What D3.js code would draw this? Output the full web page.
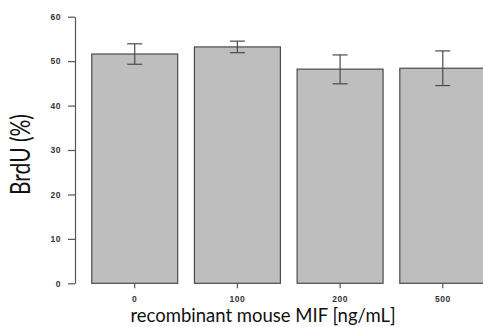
<!DOCTYPE html>
<html lang="en">
<head>
  <script src="https://d3js.org/d3.v7.min.js"></script>
  <style>
    body { margin: 0; background: #fff; }
    svg { display: block; overflow: hidden; }
  </style>
</head>
<body>
  <div id="chart"></div>
  <script>
    // data
    const doses = ["0", "100", "200", "500"];
    const brdu = [51.6, 53.2, 48.2, 48.4];
    const errLow = [49.3, 51.9, 44.9, 44.5];
    const errHigh = [53.9, 54.5, 51.4, 52.3];
    const yTicks = [0, 10, 20, 30, 40, 50, 60];

    const width = 483, height = 327;

    const svg = d3.select("#chart")
      .append("svg")
        .attr("width", width)
        .attr("height", height);

    // y scale: 0 at 283.3, 60 at 16.7
    const y = d3.scaleLinear()
      .domain([0, 60])
      .range([283.3, 16.7]);

    // band scale, last bar runs off the right edge like the original
    const x = d3.scaleBand()
      .domain(doses)
      .range([75, 502.5])
      .paddingInner(0.163)
      .paddingOuter(0.163);

    // y axis
    const yAxis = svg.append("g")
      .attr("transform", "translate(75,0)")
      .call(d3.axisLeft(y).tickValues(yTicks).tickSize(7).tickPadding(7).tickSizeOuter(0));
    yAxis.select(".domain").attr("stroke", "#555").attr("stroke-width", 1.2);
    yAxis.selectAll(".tick line").attr("stroke", "#555").attr("stroke-width", 1.2);
    yAxis.selectAll(".tick text")
      .attr("fill", "#333")
      .style("font-family", "'Liberation Sans', Arial, sans-serif")
      .style("font-size", "8.5px")
      .style("font-weight", "bold")
      .style("letter-spacing", "0.5px");

    // bars
    svg.append("g")
      .selectAll("rect")
      .data(doses)
      .join("rect")
        .attr("x", d => x(d))
        .attr("y", (d, i) => y(brdu[i]))
        .attr("width", x.bandwidth())
        .attr("height", (d, i) => y(0) - y(brdu[i]))
        .attr("fill", "#bebebe")
        .attr("stroke", "#4a4a4a")
        .attr("stroke-width", 1.2);

    // error bars
    const eb = svg.append("g")
      .attr("stroke", "#4a4a4a")
      .attr("stroke-width", 1.2)
      .selectAll("g")
      .data(doses)
      .join("g")
        .attr("transform", d => `translate(${x(d) + x.bandwidth() / 2},0)`);
    eb.append("line")
      .attr("y1", (d, i) => y(errLow[i]))
      .attr("y2", (d, i) => y(errHigh[i]));
    eb.append("line")
      .attr("x1", -7.5).attr("x2", 7.5)
      .attr("y1", (d, i) => y(errHigh[i]))
      .attr("y2", (d, i) => y(errHigh[i]));
    eb.append("line")
      .attr("x1", -7.5).attr("x2", 7.5)
      .attr("y1", (d, i) => y(errLow[i]))
      .attr("y2", (d, i) => y(errLow[i]));

    // x axis: ticks only, no line
    const xAxis = svg.append("g")
      .attr("transform", `translate(0,${y(0)})`)
      .call(d3.axisBottom(x).tickSize(5).tickPadding(8).tickSizeOuter(0));
    xAxis.select(".domain").remove();
    xAxis.selectAll(".tick line").attr("stroke", "#555").attr("stroke-width", 1.2);
    xAxis.selectAll(".tick text")
      .attr("fill", "#333")
      .style("font-family", "'Liberation Sans', Arial, sans-serif")
      .style("font-size", "8.5px")
      .style("font-weight", "bold")
      .style("letter-spacing", "0.5px");

    // axis titles
    svg.append("text")
      .attr("x", 263)
      .attr("y", 321.5)
      .attr("text-anchor", "middle")
      .attr("fill", "#111")
      .style("font-family", "Lato, 'Open Sans', sans-serif")
      .style("font-size", "18.5px")
      .text("recombinant mouse MIF [ng/mL]");

    // the y title in the original is stretched across its height
    svg.append("text")
      .attr("transform", "translate(29.5,154.5) rotate(-90) scale(1,1.3)")
      .attr("text-anchor", "middle")
      .attr("fill", "#111")
      .style("font-family", "Lato, 'Open Sans', sans-serif")
      .style("font-size", "21px")
      .text("BrdU (%)");
  </script>
</body>
</html>
